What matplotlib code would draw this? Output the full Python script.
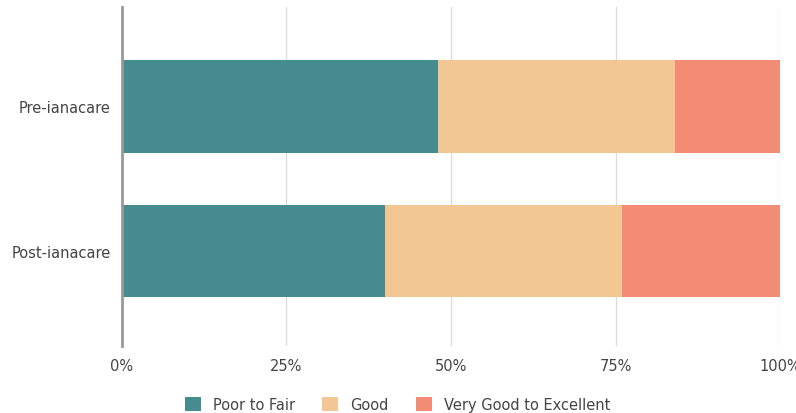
# stacked horizontal bar chart: self-rated health before/after ianacare
import numpy as np
import matplotlib.pyplot as plt
from matplotlib.ticker import PercentFormatter

categories = ['Pre-ianacare', 'Post-ianacare']
poor_to_fair = [48, 40]
good = [36, 36]
very_good = [16, 24]

series = [('Poor to Fair', poor_to_fair, '#458b8f'),
          ('Good', good, '#f3c794'),
          ('Very Good to Excellent', very_good, '#f38c74')]

fig = plt.figure(figsize=(7.96, 4.14), dpi=100)
ax = fig.add_axes([0.153, 0.162, 0.827, 0.819])

y = np.arange(len(categories))
left = np.zeros(len(categories))
for name, vals, color in series:
    ax.barh(y, vals, left=left, height=0.64, color=color, label=name, zorder=2)
    left += np.array(vals)

ax.set_xlim(0, 100)
ax.set_ylim(1.66, -0.69)
ax.set_yticks(y)
ax.set_yticklabels(categories)
ax.set_xticks([0, 25, 50, 75, 100])
ax.xaxis.set_major_formatter(PercentFormatter(decimals=0))
ax.tick_params(length=0, labelsize=10.5, labelcolor='#444444')
ax.tick_params(axis='x', pad=9)
ax.tick_params(axis='y', pad=8)

ax.grid(axis='x', color='#dddddd', linewidth=1, zorder=0)
for s in ['top', 'right', 'bottom']:
    ax.spines[s].set_visible(False)
ax.spines['left'].set_color('#999999')
ax.spines['left'].set_linewidth(2)
ax.spines['left'].set_zorder(3)

ax.legend(loc='center', bbox_to_anchor=(0.419, -0.172), ncol=3, frameon=False,
          fontsize=10.5, handlelength=1.1, handleheight=1.1, columnspacing=1.9,
          labelcolor='#444444')

fig.savefig('out.png', dpi=100)
